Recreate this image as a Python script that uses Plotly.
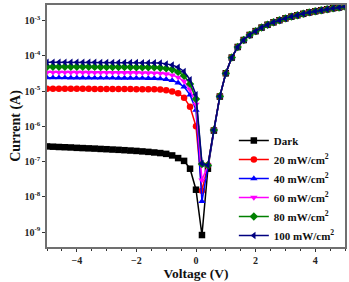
import plotly.graph_objects as go

voltage = [-5.0, -4.8, -4.6, -4.4, -4.2, -4.0, -3.8, -3.6, -3.4, -3.2, -3.0, -2.8, -2.6, -2.4, -2.2,
           -2.0, -1.8, -1.6, -1.4, -1.2, -1.0, -0.8, -0.6, -0.4, -0.2, 0.0, 0.2, 0.4, 0.6, 0.8,
           1.0, 1.2, 1.4, 1.6, 1.8, 2.0, 2.2, 2.4, 2.6, 2.8, 3.0, 3.2, 3.4, 3.6, 3.8, 4.0, 4.2,
           4.4, 4.6, 4.8, 5.0]

current_dark = [2.70e-7, 2.65e-7, 2.60e-7, 2.56e-7, 2.52e-7, 2.46e-7, 2.42e-7, 2.38e-7, 2.34e-7,
                2.29e-7, 2.25e-7, 2.20e-7, 2.16e-7, 2.11e-7, 2.06e-7, 2.01e-7, 1.95e-7, 1.89e-7,
                1.82e-7, 1.75e-7, 1.66e-7, 1.50e-7, 1.26e-7, 1.05e-7, 6.3e-8, 1.6e-8, 8.3e-10,
                6.3e-8, 7.6e-7, 7.0e-6, 3.2e-5, 8.9e-5, 1.78e-4, 2.8e-4, 3.9e-4, 5.0e-4, 6.3e-4,
                7.6e-4, 8.9e-4, 1.02e-3, 1.15e-3, 1.29e-3, 1.41e-3, 1.55e-3, 1.70e-3, 1.82e-3,
                1.95e-3, 2.09e-3, 2.24e-3, 2.34e-3, 2.51e-3]

current_20 = [1.17e-5, 1.17e-5, 1.17e-5, 1.16e-5, 1.16e-5, 1.16e-5, 1.16e-5, 1.16e-5, 1.15e-5,
              1.15e-5, 1.15e-5, 1.15e-5, 1.14e-5, 1.14e-5, 1.14e-5, 1.13e-5, 1.13e-5, 1.12e-5,
              1.12e-5, 1.10e-5, 1.05e-5, 9.8e-6, 8.7e-6, 6.5e-6, 3.6e-6, 1.0e-6, 1.5e-8,
              7.9e-8, 7.9e-7, 7.1e-6, 3.2e-5, 8.9e-5, 1.78e-4, 2.8e-4, 3.9e-4, 5.0e-4, 6.3e-4,
              7.6e-4, 8.9e-4, 1.02e-3, 1.15e-3, 1.29e-3, 1.41e-3, 1.55e-3, 1.70e-3, 1.82e-3,
              1.95e-3, 2.09e-3, 2.24e-3, 2.34e-3, 2.51e-3]

current_40 = [2.40e-5, 2.40e-5, 2.39e-5, 2.39e-5, 2.38e-5, 2.38e-5, 2.37e-5, 2.37e-5, 2.36e-5,
              2.36e-5, 2.35e-5, 2.35e-5, 2.34e-5, 2.34e-5, 2.33e-5, 2.33e-5, 2.32e-5, 2.31e-5,
              2.30e-5, 2.25e-5, 2.15e-5, 2.0e-5, 1.72e-5, 1.32e-5, 7.8e-6, 2.9e-6, 7.5e-9,
              7.9e-8, 7.9e-7, 7.1e-6, 3.2e-5, 8.9e-5, 1.78e-4, 2.8e-4, 3.9e-4, 5.0e-4, 6.3e-4,
              7.6e-4, 8.9e-4, 1.02e-3, 1.15e-3, 1.29e-3, 1.41e-3, 1.55e-3, 1.70e-3, 1.82e-3,
              1.95e-3, 2.09e-3, 2.24e-3, 2.34e-3, 2.51e-3]

current_60 = [3.40e-5, 3.40e-5, 3.39e-5, 3.39e-5, 3.38e-5, 3.38e-5, 3.37e-5, 3.37e-5, 3.36e-5,
              3.36e-5, 3.35e-5, 3.35e-5, 3.34e-5, 3.33e-5, 3.32e-5, 3.31e-5, 3.30e-5, 3.28e-5,
              3.25e-5, 3.20e-5, 3.05e-5, 2.85e-5, 2.45e-5, 1.9e-5, 1.1e-5, 4.2e-6, 3.0e-8,
              7.9e-8, 7.9e-7, 7.1e-6, 3.2e-5, 8.9e-5, 1.78e-4, 2.8e-4, 3.9e-4, 5.0e-4, 6.3e-4,
              7.6e-4, 8.9e-4, 1.02e-3, 1.15e-3, 1.29e-3, 1.41e-3, 1.55e-3, 1.70e-3, 1.82e-3,
              1.95e-3, 2.09e-3, 2.24e-3, 2.34e-3, 2.51e-3]

current_80 = [4.90e-5, 4.90e-5, 4.89e-5, 4.89e-5, 4.88e-5, 4.88e-5, 4.87e-5, 4.86e-5, 4.85e-5,
              4.84e-5, 4.83e-5, 4.82e-5, 4.81e-5, 4.80e-5, 4.78e-5, 4.76e-5, 4.74e-5, 4.72e-5,
              4.70e-5, 4.60e-5, 4.40e-5, 4.10e-5, 3.5e-5, 2.7e-5, 1.6e-5, 6.0e-6, 8.5e-8,
              7.9e-8, 7.9e-7, 7.1e-6, 3.2e-5, 8.9e-5, 1.78e-4, 2.8e-4, 3.9e-4, 5.0e-4, 6.3e-4,
              7.6e-4, 8.9e-4, 1.02e-3, 1.15e-3, 1.29e-3, 1.41e-3, 1.55e-3, 1.70e-3, 1.82e-3,
              1.95e-3, 2.09e-3, 2.24e-3, 2.34e-3, 2.51e-3]

current_100 = [6.60e-5, 6.59e-5, 6.58e-5, 6.57e-5, 6.56e-5, 6.55e-5, 6.54e-5, 6.53e-5, 6.52e-5,
               6.51e-5, 6.50e-5, 6.49e-5, 6.48e-5, 6.46e-5, 6.44e-5, 6.42e-5, 6.40e-5, 6.36e-5,
               6.32e-5, 6.20e-5, 5.90e-5, 5.50e-5, 4.7e-5, 3.6e-5, 2.1e-5, 7.9e-6, 8.9e-8,
               7.9e-8, 7.9e-7, 7.1e-6, 3.2e-5, 8.9e-5, 1.78e-4, 2.8e-4, 3.9e-4, 5.0e-4, 6.3e-4,
               7.6e-4, 8.9e-4, 1.02e-3, 1.15e-3, 1.29e-3, 1.41e-3, 1.55e-3, 1.70e-3, 1.82e-3,
               1.95e-3, 2.09e-3, 2.24e-3, 2.34e-3, 2.51e-3]

series_names = ["Dark", "20 mW/cm<sup>2</sup>", "40 mW/cm<sup>2</sup>", "60 mW/cm<sup>2</sup>",
                "80 mW/cm<sup>2</sup>", "100 mW/cm<sup>2</sup>"]
series_values = [current_dark, current_20, current_40, current_60, current_80, current_100]
series_colors = ["#000000", "#ff0000", "#0000ff", "#ff00ff", "#008000", "#000080"]
series_symbols = ["square", "circle", "triangle-up", "triangle-down", "diamond", "triangle-left"]

y_tick_vals = [1e-9, 1e-8, 1e-7, 1e-6, 1e-5, 1e-4, 1e-3]
y_tick_text = ["<b>10<sup>-9</sup></b>", "<b>10<sup>-8</sup></b>", "<b>10<sup>-7</sup></b>",
               "<b>10<sup>-6</sup></b>", "<b>10<sup>-5</sup></b>", "<b>10<sup>-4</sup></b>",
               "<b>10<sup>-3</sup></b>"]
x_tick_vals = [-4, -2, 0, 2, 4]

FONT = "Liberation Serif"

fig = go.Figure()
for name, vals, col, sym in zip(series_names, series_values, series_colors, series_symbols):
    fig.add_trace(go.Scatter(
        x=voltage, y=vals, mode="lines+markers", name=name,
        line=dict(color=col, width=1.5),
        marker=dict(symbol=sym, size=6.5, color=col),
    ))

axis_common = dict(
    showline=True, linecolor="#707070", linewidth=1.5, mirror=True,
    ticks="outside", ticklen=3, tickwidth=1, tickcolor="#333",
    showgrid=False, zeroline=False,
)

fig.update_xaxes(
    range=[-5, 5], tickvals=x_tick_vals,
    minor=dict(dtick=0.5, ticks="outside", ticklen=2, tickcolor="#333"),
    title=dict(text="<b>Voltage (V)</b>", font=dict(family=FONT, size=13.5, color="#111"), standoff=3),
    tickfont=dict(family=FONT, size=10, color="#222", weight="bold"),
    **axis_common,
)
fig.update_yaxes(
    type="log", range=[-9.42, -2.56], tickvals=y_tick_vals, ticktext=y_tick_text,
    title=dict(text="<b>Current (A)</b>", font=dict(family=FONT, size=14, color="#111"), standoff=1),
    tickfont=dict(family=FONT, size=10, color="#222"),
    **axis_common,
)

fig.update_layout(
    width=349, height=282,
    margin=dict(l=47, r=2, t=5, b=35),
    paper_bgcolor="white", plot_bgcolor="white",
    showlegend=True,
    legend=dict(
        x=0.627, y=0.5, xanchor="left", yanchor="top",
        bgcolor="rgba(0,0,0,0)", borderwidth=0,
        font=dict(family=FONT, size=11, color="#111", weight="bold"),
        itemwidth=30, tracegroupgap=0,
    ),
)

fig.write_html("out.html")
